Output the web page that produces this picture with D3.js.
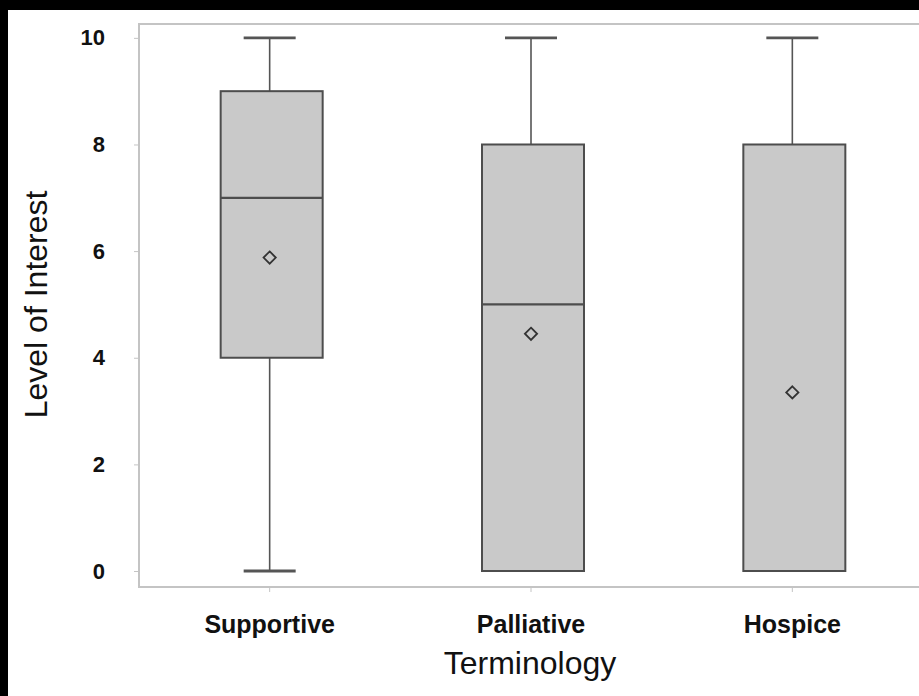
<!DOCTYPE html>
<html>
<head>
<meta charset="utf-8">
<script src="https://cdn.jsdelivr.net/npm/d3@7"></script>
<style>
  html, body { margin: 0; padding: 0; background: #000; }
  svg { display: block; }
  text { font-family: "Liberation Sans", Arial, sans-serif; fill: #111; }
</style>
</head>
<body>
<svg width="919" height="696"></svg>
<script>
// box plot summary per terminology (0-10 interest scale)
const categories = ["Supportive", "Palliative", "Hospice"];
const whiskerLow = [0, 0, 0];
const q1Values = [4, 0, 0];
const medians = [7, 5, 0];
const q3Values = [9, 8, 8];
const whiskerHigh = [10, 10, 10];
const means = [5.88, 4.45, 3.35];
const yTicks = [0, 2, 4, 6, 8, 10];

const svg = d3.select("svg");
const W = +svg.attr("width"), H = +svg.attr("height");

// white panel inside the black border
svg.append("rect").attr("x", 8).attr("y", 10).attr("width", W - 8).attr("height", H - 10).attr("fill", "#fff");

const plotLeft = 139, plotRight = 923, plotTop = 24, plotBottom = 587;

const x = d3.scaleBand().domain(categories).range([plotLeft, plotRight]);
const y = d3.scaleLinear().domain([-0.3, 10.26]).range([plotBottom, plotTop]);

const boxW = 102, capW = 52;

// frame
const frameColor = "#c4c4c4";
svg.append("rect")
    .attr("x", plotLeft).attr("y", plotTop)
    .attr("width", plotRight - plotLeft).attr("height", plotBottom - plotTop)
    .attr("fill", "none").attr("stroke", frameColor).attr("stroke-width", 2);

// y axis
const yAxis = svg.append("g")
    .attr("transform", `translate(${plotLeft},0)`)
    .call(d3.axisLeft(y).tickValues(yTicks).tickSize(5).tickPadding(29).tickFormat(d3.format("d")));
yAxis.select(".domain").remove();
yAxis.selectAll(".tick line").attr("stroke", frameColor);
yAxis.selectAll(".tick text")
    .style("font-family", "'Liberation Sans', Arial, sans-serif")
    .style("font-size", "22px").style("font-weight", "bold").attr("fill", "#111");

// x axis
const xAxis = svg.append("g")
    .attr("transform", `translate(0,${plotBottom})`)
    .call(d3.axisBottom(x).tickSize(5).tickPadding(23));
xAxis.select(".domain").remove();
xAxis.selectAll(".tick line").attr("stroke", frameColor);
xAxis.selectAll(".tick text")
    .style("font-family", "'Liberation Sans', Arial, sans-serif")
    .style("font-size", "25px").style("font-weight", "bold").attr("fill", "#111");

// axis titles
svg.append("text")
    .attr("transform", `translate(47,${(y(0) + y(10)) / 2}) rotate(-90)`)
    .attr("text-anchor", "middle")
    .style("font-size", "32px")
    .text("Level of Interest");

svg.append("text")
    .attr("x", (plotLeft + plotRight) / 2 - 1).attr("y", 674)
    .attr("text-anchor", "middle")
    .style("font-size", "32px")
    .text("Terminology");

// boxes
const data = categories.map((c, i) => ({
    name: c, lo: whiskerLow[i], q1: q1Values[i], med: medians[i],
    q3: q3Values[i], hi: whiskerHigh[i], mean: means[i]
}));

const g = svg.selectAll("g.box").data(data).join("g").attr("class", "box")
    .attr("transform", d => `translate(${x(d.name) + x.bandwidth() / 2},0)`);

// whiskers
g.append("line").attr("x1", 0).attr("x2", 0)
    .attr("y1", d => y(d.hi)).attr("y2", d => y(d.q3))
    .attr("stroke", "#555").attr("stroke-width", 1.6);
g.append("line").attr("x1", 0).attr("x2", 0)
    .attr("y1", d => y(d.q1)).attr("y2", d => y(d.lo))
    .attr("stroke", "#555").attr("stroke-width", 1.6);
g.append("line")
    .attr("x1", -capW / 2).attr("x2", capW / 2)
    .attr("y1", d => y(d.hi)).attr("y2", d => y(d.hi))
    .attr("stroke", "#555").attr("stroke-width", 2.8);
g.filter(d => d.lo < d.q1).append("line")
    .attr("x1", -capW / 2).attr("x2", capW / 2)
    .attr("y1", d => y(d.lo)).attr("y2", d => y(d.lo))
    .attr("stroke", "#555").attr("stroke-width", 2.8);

g.append("rect")
    .attr("x", -boxW / 2 + 2).attr("width", boxW)
    .attr("y", d => y(d.q3)).attr("height", d => y(d.q1) - y(d.q3))
    .attr("fill", "#c9c9c9").attr("stroke", "#4d4d4d").attr("stroke-width", 2);

g.append("line")
    .attr("x1", -boxW / 2 + 2).attr("x2", boxW / 2 + 2)
    .attr("y1", d => y(d.med)).attr("y2", d => y(d.med))
    .attr("stroke", "#4d4d4d").attr("stroke-width", 2.2);

// mean diamonds
g.append("path")
    .attr("d", d3.symbol().type(d3.symbolDiamond2).size(95))
    .attr("transform", d => `translate(0,${y(d.mean)})`)
    .attr("fill", "none").attr("stroke", "#333").attr("stroke-width", 1.8);
</script>
</body>
</html>
